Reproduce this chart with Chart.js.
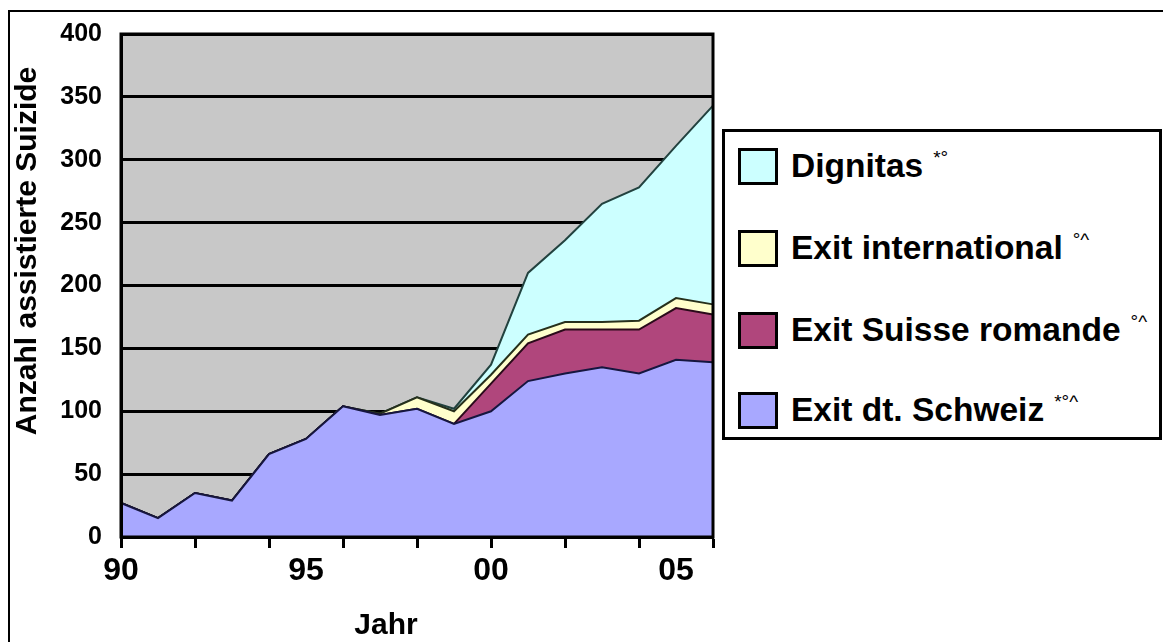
<!DOCTYPE html>
<html lang="de">
  <head>
    <meta charset="UTF-8" />
    <title>Assistierte Suizide</title>
    <script src="https://cdn.jsdelivr.net/npm/chart.js"></script>
    <style>
      body {
        margin: 0;
        overflow: hidden;
        background: #fff;
        font-family: "Liberation Sans", Arial, sans-serif;
      }
      .wrap { position: relative; width: 1163px; height: 642px; overflow: hidden; }
      .frame {
        position: absolute; left: 8px; top: 10px; width: 1300px; height: 800px;
        border-left: 2px solid #000; border-top: 2px solid #000;
      }
      #chartBox { position: absolute; left: 0; top: 0; width: 1163px; height: 642px; }
      .legend {
        position: absolute; left: 722px; top: 129px; width: 434px; height: 305px;
        border: 3px solid #000; background: #fff;
      }
      .item {
        position: absolute; left: 13px; height: 38px;
        display: flex; align-items: center; white-space: nowrap;
        font-weight: bold; font-size: 33.5px; color: #000;
      }
      .swatch { width: 34px; height: 31px; border: 3px solid #000; margin-right: 13px; }
      .mark { font-size: 19px; font-weight: normal; align-self: flex-start; margin-left: 10px; margin-top: 0px; }
    </style>
  </head>
  <body>
    <div class="wrap">
      <div class="frame"></div>
      <div id="chartBox"><canvas id="myChart"></canvas></div>
      <div class="legend" id="legend"></div>
    </div>

    <script>
      const years = [1990, 1991, 1992, 1993, 1994, 1995, 1996, 1997, 1998, 1999, 2000, 2001, 2002, 2003, 2004, 2005, 2006];
      const tickYears = [1990, 1995, 2000, 2005];
      const tickTexts = ["90", "95", "00", "05"];

      const exitDtSchweiz = [27, 15, 35, 29, 66, 78, 104, 97, 102, 90, 100, 124, 130, 135, 130, 141, 139];
      const exitSuisseRomande = [0, 0, 0, 0, 0, 0, 0, 0, 0, 0, 22, 30, 35, 30, 35, 41, 38];
      const exitInternational = [0, 0, 0, 0, 0, 0, 0, 1, 9, 10, 7, 7, 6, 6, 7, 8, 8];
      const dignitas = [0, 0, 0, 0, 0, 0, 0, 0, 0, 2, 8, 49, 65, 94, 106, 121, 158];

      const seriesNames = ["Exit dt. Schweiz", "Exit Suisse romande", "Exit international", "Dignitas"];
      const seriesMarks = ["*°^", "°^", "°^", "*°"];
      const fillColors = ["#a8a8ff", "#b0467c", "#ffffcc", "#ccffff"];
      const lineColors = ["#16163f", "#2a0a1a", "#26301c", "#22423f"];

      const yTitle = "Anzahl assistierte Suizide";
      const xTitle = "Jahr";
      const fontFam = '"Liberation Sans", Arial, sans-serif';

      const seriesValues = [exitDtSchweiz, exitSuisseRomande, exitInternational, dignitas];

      const datasets = seriesValues.map((vals, i) => ({
        label: seriesNames[i],
        data: vals,
        backgroundColor: fillColors[i],
        borderColor: lineColors[i],
        borderWidth: 2,
        pointRadius: 0,
        tension: 0,
        fill: i === 0 ? "origin" : "-1",
      }));

      // grey plot background + frame + axis titles
      const plotDeco = {
        id: "plotDeco",
        beforeDraw(chart) {
          const { ctx, chartArea: a } = chart;
          ctx.save();
          ctx.fillStyle = "#c8c8c8";
          ctx.fillRect(a.left, a.top, a.right - a.left, a.bottom - a.top);
          ctx.restore();
        },
        afterDraw(chart) {
          const { ctx, chartArea: a } = chart;
          ctx.save();
          ctx.strokeStyle = "#000";
          ctx.lineWidth = 3;
          ctx.strokeRect(a.left, a.top, a.right - a.left, a.bottom - a.top);

          ctx.fillStyle = "#000";
          ctx.font = "bold 30px " + fontFam;
          ctx.textAlign = "center";
          ctx.textBaseline = "alphabetic";
          ctx.fillText(xTitle, 386, 634);

          ctx.translate(36, 251);
          ctx.rotate(-Math.PI / 2);
          ctx.fillText(yTitle, 0, 0);
          ctx.restore();
        },
      };

      const config = {
        type: "line",
        data: { labels: years, datasets: datasets },
        options: {
          responsive: true,
          maintainAspectRatio: false,
          animation: false,
          layout: { padding: { top: 29, right: 450, left: 0, bottom: 0 } },
          plugins: { legend: { display: false }, tooltip: { enabled: false } },
          scales: {
            x: {
              type: "category",
              offset: false,
              afterFit: (s) => { s.height = 105; },
              grid: {
                drawOnChartArea: false,
                drawTicks: true,
                tickLength: 11,
                tickWidth: 3,
                tickColor: (c) => (c.index % 2 === 0 ? "#000" : "rgba(0,0,0,0)"),
              },
              border: { display: true, color: "#000", width: 3, z: 1 },
              ticks: {
                autoSkip: false,
                maxRotation: 0,
                padding: 4,
                color: "#000",
                font: { family: fontFam, size: 32, weight: "bold" },
                callback: (v, i) => {
                  const k = tickYears.indexOf(years[i]);
                  return k >= 0 ? tickTexts[k] : "";
                },
              },
            },
            y: {
              stacked: true,
              min: 0,
              max: 400,
              afterFit: (s) => { s.width = 121; },
              grid: { color: "#000", lineWidth: 3, drawTicks: false },
              border: { display: true, color: "#000", width: 3, z: 1 },
              ticks: {
                stepSize: 50,
                padding: 19,
                color: "#000",
                font: { family: fontFam, size: 25, weight: "bold" },
              },
            },
          },
        },
        plugins: [plotDeco],
      };

      new Chart(document.getElementById("myChart"), config);

      // legend, top entry = last series
      const legendEl = document.getElementById("legend");
      const rowTops = [15, 97, 179, 259];
      for (let r = 0; r < 4; r++) {
        const i = 3 - r;
        const item = document.createElement("div");
        item.className = "item";
        item.style.top = rowTops[r] + "px";
        item.innerHTML =
          '<div class="swatch" style="background:' + fillColors[i] + '"></div>' +
          "<span>" + seriesNames[i] + "</span>" +
          '<span class="mark">' + seriesMarks[i] + "</span>";
        legendEl.appendChild(item);
      }
    </script>
  </body>
</html>
